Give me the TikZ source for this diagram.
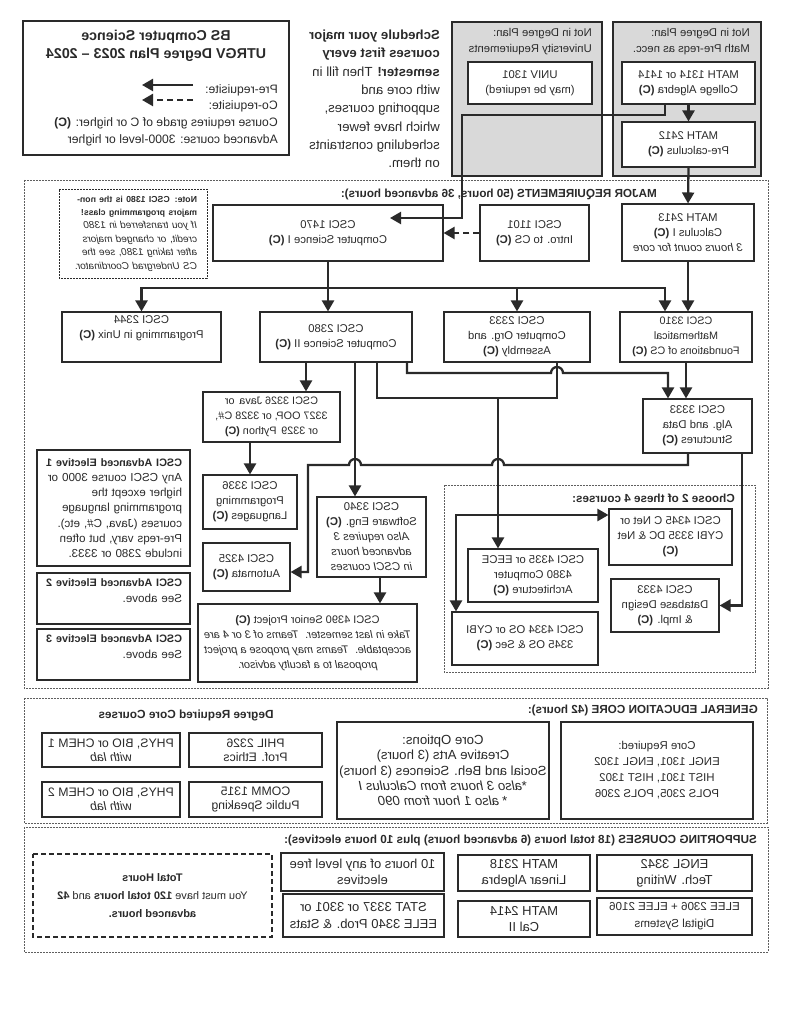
\documentclass[tikz,border=0pt]{standalone}
\usepackage{fontspec}
\setmainfont{Liberation Sans}
\usetikzlibrary{arrows.meta}
\definecolor{ink}{HTML}{2A2A2A}
\definecolor{greybg}{HTML}{D9D9D9}

\begin{document}
\begin{tikzpicture}[x=1pt,y=-1pt,
    every node/.style={xscale=-1,text=ink,font=\fontsize{11.3}{15}\selectfont},
    box/.style={draw=ink,line width=1.1pt,fill=white,align=center,inner sep=0pt},
    frame/.style={draw=ink!75,line width=0.7pt,dash pattern=on 2pt off 1pt},
    head/.style={anchor=west,inner sep=0pt,font=\fontsize{11.7}{13}\selectfont\bfseries},
    txt/.style={anchor=west,inner sep=0pt,align=left},
    elect/.style={box,minimum width=153pt,text width=137pt,inner xsep=8pt,align=left},
    pre/.style={draw=ink,line width=2.3pt,-{Triangle[length=11pt,width=12pt]}},
    co/.style={pre,dash pattern=on 6pt off 4pt},
    wire/.style={draw=ink,line width=2.3pt}]
        \useasboundingbox (0,0) rectangle (791,1024);

        % title and legend
        \draw[draw=ink,line width=1.1pt] (23,21) rectangle (289,155);
        \node[align=center,font=\fontsize{14.3}{18}\selectfont\bfseries] (title) at (156,46) {BS Computer Science\\UTRGV Degree Plan 2023 -- 2024};
        \node[txt,font=\fontsize{12.2}{16.7}\selectfont] (legend) at (278,115) {Pre-requisite:\\Co-requisite:\\Course requires grade of C or higher: \textbf{(C)}\\Advanced course: 3000-level or higher};
        \coordinate (l1) at (193,85);
        \coordinate (l2) at (142,85);
        \coordinate (l3) at (193,100);
        \coordinate (l4) at (142,100);
        \draw[pre] (l1) -- (l2);
        \draw[co] (l3) -- (l4);
        \node[txt,font=\fontsize{13.2}{18.3}\selectfont] (plan) at (440,99) {\textbf{Schedule your major}\\\textbf{courses first every}\\\textbf{semester!} Then fill in\\with core and\\supporting courses,\\which have fewer\\scheduling constraints\\on them.};

        % not in degree plan
        \draw[draw=ink,line width=1.1pt,fill=greybg] (452,22) rectangle (602,176);
        \draw[draw=ink,line width=1.1pt,fill=greybg] (613,22) rectangle (761,176);
        \node[txt,font=\fontsize{11.3}{16}\selectfont] (huniv) at (592,42) {Not in Degree Plan:\\University Requirements};
        \node[txt,font=\fontsize{11.3}{16}\selectfont] (hmath) at (750,42) {Not in Degree Plan:\\Math Pre-reqs as necc.};
        \node[box,minimum width=124pt,minimum height=42pt] (u1301) at (530,83) {UNIV 1301\\(may be required)};
        \node[box,minimum width=133pt,minimum height=42pt] (m1314) at (688.5,83) {MATH 1314 or 1414\\College Algebra \textbf{(C)}};
        \node[box,minimum width=133pt,minimum height=45pt] (m2412) at (688.5,144.5) {MATH 2412\\Pre-calculus \textbf{(C)}};

        % frames
        \draw[frame] (24,180) rectangle (768,688);
        \draw[frame] (444,485) rectangle (755,672);
        \draw[frame] (24,698) rectangle (767,823);
        \draw[frame] (24,827) rectangle (768,952);
        \node[head] (hmajor) at (657,194) {MAJOR REQUIREMENTS (50 hours, 36 advanced hours):};
        \node[head] (hchoose) at (735,498) {Choose 2 of these 4 courses:};
        \node[head] (hcore) at (758,710) {GENERAL EDUCATION CORE (42 hours):};
        \node[head] (hsupp) at (757,840) {SUPPORTING COURSES (18 total hours (6 advanced hours) plus 10 hours electives):};
        \node[font=\fontsize{11.8}{13}\selectfont\bfseries] (hdeg) at (186,715) {Degree Required Core Courses};

        % major requirements
        \node[draw=ink,line width=0.8pt,dash pattern=on 2pt off 1pt,minimum width=148pt,minimum height=89pt,text width=128pt,inner xsep=10pt,align=left,font=\fontsize{10}{13.4}\selectfont] (note) at (133,233.5) {{\fontsize{8.7}{13.4}\selectfont\bfseries Note: CSCI 1380 is the non-}\\{\fontsize{8.7}{13.4}\selectfont\bfseries majors programming class!}\\\textit{If you transferred in 1380}\\\textit{credit, or changed majors}\\\textit{after taking 1380, see the}\\\textit{CS Undergrad Coordinator.}};
        \node[box,minimum width=230pt,minimum height=56pt] (c1470) at (328,233) {CSCI 1470\\Computer Science I \textbf{(C)}};
        \node[box,minimum width=109pt,minimum height=56pt] (c1101) at (534.5,233) {CSCI 1101\\Intro. to CS \textbf{(C)}};
        \node[box,minimum width=132pt,minimum height=57pt] (m2413) at (688,232.5) {MATH 2413\\Calculus I \textbf{(C)}\\\textit{3 hours count for core}};
        \node[box,minimum width=159pt,minimum height=50pt] (c2344) at (141.5,337) {CSCI 2344\\Programming in Unix \textbf{(C)}\\[4pt]};
        \node[box,minimum width=152pt,minimum height=50pt] (c2380) at (336,337) {CSCI 2380\\Computer Science II \textbf{(C)}};
        \node[box,minimum width=146pt,minimum height=50pt] (c2333) at (517,337) {CSCI 2333\\Computer Org. and\\Assembly \textbf{(C)}};
        \node[box,minimum width=132pt,minimum height=50pt,font=\fontsize{10.8}{15}\selectfont] (c3310) at (686,337) {CSCI 3310\\Mathematical\\Foundations of CS \textbf{(C)}};
        \node[box,minimum width=137pt,minimum height=50pt,font=\fontsize{10.8}{15}\selectfont] (c3326) at (271.5,417) {CSCI 3326 Java\, or\\3327 OOP, or 3328 C\#,\\or 3329\, Python \textbf{(C)}};
        \node[box,minimum width=109pt,minimum height=54pt] (c3333) at (697.5,426) {CSCI 3333\\Alg. and Data\\Structures \textbf{(C)}};
        \node[box,minimum width=94pt,minimum height=54pt] (c3336) at (250,502) {CSCI 3336\\Programming\\Languages \textbf{(C)}};
        \node[box,minimum width=109pt,minimum height=80pt] (c3340) at (371.5,537) {CSCI 3340\\Software Eng. \textbf{(C)}\\\textit{Also requires 3}\\\textit{advanced hours}\\\textit{in CSCI courses}};
        \node[box,minimum width=87pt,minimum height=48pt] (c4325) at (246.5,567) {CSCI 4325\\Automata \textbf{(C)}};
        \node[box,minimum width=219pt,minimum height=78pt,font=\fontsize{11}{15}\selectfont] (c4390) at (307.5,643) {CSCI 4390 Senior Project \textbf{(C)}\\\textit{Take in last semester.\, Teams of 3 or 4 are}\\\textit{acceptable.\, Teams may propose a project}\\\textit{proposal to a faculty advisor.}};
        \node[box,minimum width=123pt,minimum height=56pt] (c4345) at (670.5,537) {CSCI 4345 C Net or\\CYBI 3335 DC \& Net\\\textbf{(C)}};
        \node[box,minimum width=130pt,minimum height=53pt] (c4335) at (533,575.5) {CSCI 4335 or EECE\\4380 Computer\\Architecture \textbf{(C)}};
        \node[box,minimum width=108pt,minimum height=53pt] (c4333) at (665,605.5) {CSCI 4333\\Database Design\\\& Impl. \textbf{(C)}};
        \node[box,minimum width=146pt,minimum height=53pt] (c4334) at (525,638.5) {CSCI 4334 OS or CYBI\\3345 OS \& Sec \textbf{(C)}};
        \node[elect,minimum height=116pt,font=\fontsize{11.6}{15.2}\selectfont] (e1) at (113.5,508) {{\fontsize{10.8}{15.2}\selectfont\bfseries CSCI Advanced Elective 1}\\Any CSCI course 3000 or\\higher except the\\programming language\\courses (Java, C\#, etc).\\Pre-reqs vary, but often\\include 2380 or 3333.};
        \node[elect,minimum height=51pt,font=\fontsize{11.6}{16}\selectfont] (e2) at (113.5,598.5) {{\fontsize{10.8}{16}\selectfont\bfseries CSCI Advanced Elective 2}\\See above.\\~};
        \node[elect,minimum height=51pt,font=\fontsize{11.6}{16}\selectfont] (e3) at (113.5,654.5) {{\fontsize{10.8}{16}\selectfont\bfseries CSCI Advanced Elective 3}\\See above.\\~};

        % prerequisite arrows
        \draw[pre] (m1314.south) -- (m2412.north);
        \coordinate (in1470) at (390,218);
        \draw[pre] ([xshift=-23.5pt]m1314.south) |- (462,115) |- (in1470);
        \draw[pre] (m2412.south) -- (m2413.north);
        \draw[co] (c1101.east) -- (c1470.west);
        \coordinate (bus) at (328,288);
        \draw[pre] (c1470.south) -- (c1470.south |- c2380.north);
        \draw[pre] (bus) -| (c2344.north);
        \draw[pre] (bus) -| (c2333.north);
        \draw[pre] (bus) -| ([xshift=-21pt]c3310.north);
        \draw[pre] (m2413.south) -- (m2413.south |- c3310.north);
        \draw[pre] ([xshift=-30pt]c2380.south) -- ([xshift=34.5pt]c3326.north);
        \draw[pre] (c3326.south -| c3336.north) -- (c3336.north);
        \draw[pre] ([xshift=19pt]c2380.south) -- ([xshift=-16.5pt]c3340.north);
        \draw[pre] ([xshift=71pt]c2380.south) |- (551,373) arc[start angle=180,end angle=0,radius=6pt] -| ([xshift=-29.5pt]c3333.north);
        \draw[pre] (c3310.south) -- (c3310.south |- c3333.north);
        \draw[wire] ([xshift=41pt]c2380.south) |- (557,398) -- ([xshift=40pt]c2333.south);
        \coordinate (j3) at (498,398);
        \coordinate (j4) at (498,515);
        \draw[pre] (j3) -- ([xshift=-35pt]c4335.north);
        \draw[pre] (j4) -- (j4 -| c4345.east);
        \draw[pre] (j4) -| ([xshift=-69pt]c4334.north);
        \draw[pre] ([xshift=-9.5pt]c3333.south) |- (504,465) arc[start angle=0,end angle=180,radius=6pt] -- (361,465) arc[start angle=0,end angle=180,radius=6pt] -- (308,465) |- ([yshift=-5pt]c4325.west);
        \draw[pre] ([xshift=44.5pt]c3333.south) |- (c4333.west);
        \draw[pre] ([xshift=8.5pt]c3340.south) -- ([xshift=72.5pt]c4390.north);

        % general education core
        \node[box,minimum width=192pt,minimum height=97pt,font=\fontsize{11.4}{16}\selectfont] (coreq) at (657,770.5) {Core Required:\\ENGL 1301, ENGL 1302\\HIST 1301, HIST 1302\\POLS 2305, POLS 2306};
        \node[box,minimum width=212pt,minimum height=97pt,font=\fontsize{13.2}{15.25}\selectfont] (coropt) at (443,770.5) {Core Options:\\Creative Arts (3 hours)\\Social and Beh. Sciences (3 hours)\\\textit{*also 3 hours from Calculus I}\\\textit{* also 1 hour from 090}};
        \node[box,minimum width=133pt,minimum height=34pt,font=\fontsize{12.3}{14}\selectfont] (p2326) at (255.5,750) {PHIL 2326\\Prof. Ethics};
        \node[box,minimum width=138pt,minimum height=34pt,font=\fontsize{12.3}{14}\selectfont] (lab1) at (111,750) {PHYS, BIO or CHEM 1\\\textit{with lab}};
        \node[box,minimum width=133pt,minimum height=35pt,font=\fontsize{12.3}{14}\selectfont] (m1315) at (255.5,799.5) {COMM 1315\\Public Speaking};
        \node[box,minimum width=138pt,minimum height=35pt,font=\fontsize{12.3}{14}\selectfont] (lab2) at (111,799.5) {PHYS, BIO or CHEM 2\\\textit{with lab}};

        % supporting courses
        \node[box,minimum width=155pt,minimum height=36pt,font=\fontsize{13}{16}\selectfont] (e3342) at (674.5,873) {ENGL 3342\\Tech. Writing};
        \node[box,minimum width=155pt,minimum height=37pt,font=\fontsize{11.6}{17}\selectfont] (elee) at (674.5,916.5) {ELEE 2306 + ELEE 2106\\Digital Systems};
        \node[box,minimum width=132pt,minimum height=36pt,font=\fontsize{13}{16}\selectfont] (m2318) at (524,873) {MATH 2318\\Linear Algebra};
        \node[box,minimum width=132pt,minimum height=36pt,font=\fontsize{13}{16}\selectfont] (m2414) at (524,919) {MATH 2414\\Cal II};
        \node[box,minimum width=163pt,minimum height=38pt,font=\fontsize{13}{16}\selectfont] (free) at (362.5,872) {10 hours of any level free\\electives};
        \node[box,minimum width=161pt,minimum height=43pt,font=\fontsize{13}{17}\selectfont] (stat) at (363.5,915.5) {STAT 3337 or 3301 or\\EELE 3340 Prob. \& Stats};
        \node[box,dash pattern=on 5pt off 3pt,minimum width=239pt,minimum height=83pt,font=\fontsize{11}{18}\selectfont] (total) at (152.5,895.5) {\textbf{Total Hours}\\You must have \textbf{120 total hours} and \textbf{42}\\\textbf{advanced hours.}};
\end{tikzpicture}
\end{document}
